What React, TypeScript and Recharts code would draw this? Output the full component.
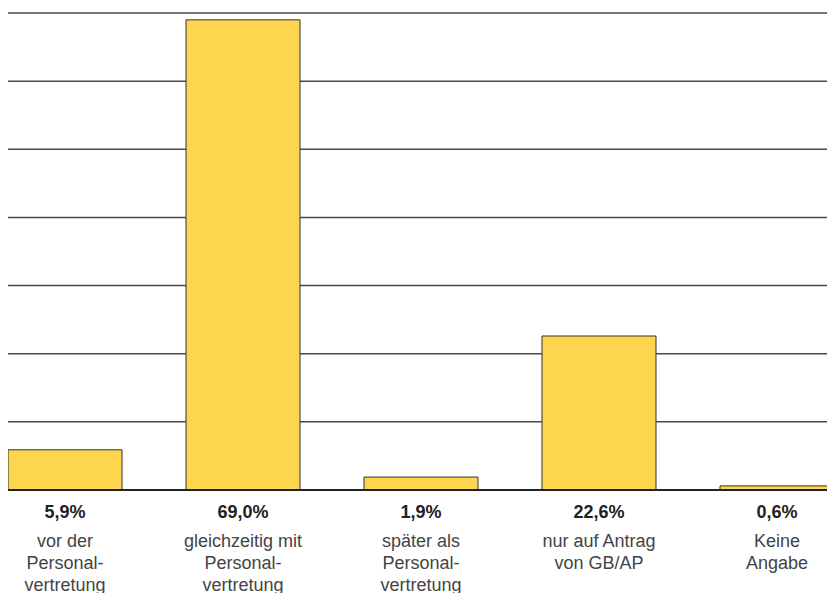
import { BarChart, Bar, XAxis, YAxis, CartesianGrid } from "recharts";

// Survey answers: when is the staff council (Personalvertretung) informed
const categories = [
  ["vor der", "Personal-", "vertretung"],
  ["gleichzeitig mit", "Personal-", "vertretung"],
  ["später als", "Personal-", "vertretung"],
  ["nur auf Antrag", "von GB/AP"],
  ["Keine", "Angabe"],
];
const shares = [5.9, 69.0, 1.9, 22.6, 0.6];
const yTicks = [0, 10, 20, 30, 40, 50, 60, 70];

const data = categories.map((lines, i) => ({
  name: String(i),
  lines,
  share: shares[i],
}));

const FONT = "'Liberation Sans', Arial, Helvetica, sans-serif";

function formatShare(v: number) {
  return v.toFixed(1).replace(".", ",") + "%";
}

function CategoryTick(props: any) {
  const { x, y, payload } = props;
  const row = data[Number(payload.value)];
  if (!row) return null;
  return (
    <g transform={`translate(${x},${y})`}>
      <text
        x={0}
        y={28}
        textAnchor="middle"
        fontFamily={FONT}
        fontSize={18}
        fontWeight="bold"
        fill="#222"
      >
        {formatShare(row.share)}
      </text>
      {row.lines.map((line, i) => (
        <text
          key={i}
          x={0}
          y={57 + i * 22}
          textAnchor="middle"
          fontFamily={FONT}
          fontSize={18}
          fill="#444"
        >
          {line}
        </text>
      ))}
    </g>
  );
}

export default function App() {
  return (
    <div
      style={{
        position: "fixed",
        left: 8,
        top: 0,
        width: 819,
        height: 593,
        overflow: "hidden",
        background: "#fff",
      }}
    >
      <div style={{ position: "absolute", left: -32, top: 0 }}>
        <BarChart
          width={890}
          height={593}
          data={data}
          margin={{ top: 13, right: 0, left: 0, bottom: 0 }}
        >
          <CartesianGrid vertical={false} stroke="#4a4a4a" strokeWidth={1.5} />
          <XAxis
            dataKey="name"
            height={103}
            interval={0}
            tickLine={false}
            tickSize={0}
            tickMargin={0}
            axisLine={{ stroke: "#222", strokeWidth: 2 }}
            tick={<CategoryTick />}
          />
          <YAxis hide width={0} domain={[0, 70]} ticks={yTicks} />
          <Bar
            dataKey="share"
            barSize={114}
            fill="#FDD54E"
            stroke="#333"
            strokeWidth={1}
            isAnimationActive={false}
          />
        </BarChart>
      </div>
    </div>
  );
}
